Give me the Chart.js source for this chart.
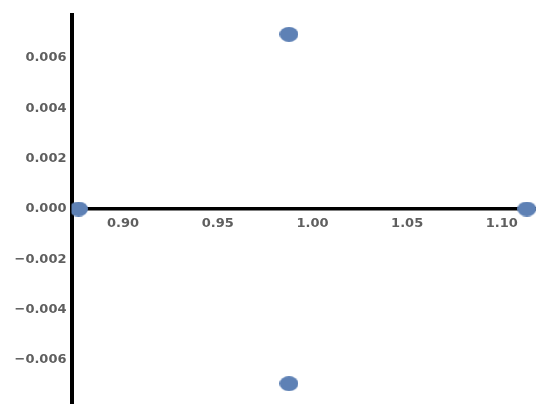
<!DOCTYPE html>
<html><head><meta charset="utf-8">
<script src="https://cdn.jsdelivr.net/npm/chart.js@4"></script>
<style>html,body{margin:0;padding:0;background:#fff}</style>
</head><body>
<canvas id="c" width="550" height="419" style="width:550px;height:419px;display:block"></canvas>
<script>
const xValues = [0.8765, 0.9876, 0.9876, 1.1132];
const yValues = [0, 0.00694, -0.00694, 0];
const xTicks = [0.90, 0.95, 1.00, 1.05, 1.10];
const yTicks = [-0.006, -0.004, -0.002, 0, 0.002, 0.004, 0.006];
const xRange = [0.8728, 1.1175];
const yRange = [-0.00771, 0.00771];

const pointColor = '#5E81B5';
const labelColor = '#5f5f5f';

function ellipseMarker(w, h, color) {
  const cv = document.createElement('canvas');
  cv.width = w; cv.height = h;
  const g = cv.getContext('2d');
  g.fillStyle = color;
  g.beginPath();
  g.ellipse(w / 2, h / 2, w / 2, h / 2, 0, 0, Math.PI * 2);
  g.fill();
  return cv;
}
const marker = ellipseMarker(19, 15, pointColor);

const fmt = (v, d) => {
  if (Math.abs(v) < 1e-12) v = 0;
  const s = Math.abs(v).toFixed(d);
  return v < 0 ? '\u2212' + s : s;
};

const font = { family: 'DejaVu Sans', size: 13, weight: 'bold' };

new Chart(document.getElementById('c'), {
  type: 'scatter',
  data: {
    datasets: [{
      data: xValues.map((x, i) => ({ x: x, y: yValues[i] })),
      pointStyle: marker,
      pointRadius: 10,
      pointHoverRadius: 10,
      backgroundColor: pointColor,
      borderColor: pointColor,
      clip: { left: 0, right: 20, top: 20, bottom: 20 }
    }]
  },
  options: {
    responsive: false,
    animation: false,
    events: [],
    layout: { padding: { top: 15, bottom: 16, right: 15, left: 0 } },
    plugins: { legend: { display: false }, tooltip: { enabled: false } },
    scales: {
      x: {
        type: 'linear',
        min: xRange[0], max: xRange[1],
        position: { y: 0 },
        z: 0,
        afterBuildTicks: s => { s.ticks = xTicks.map(v => ({ value: v })); },
        grid: { display: false, drawTicks: false },
        border: { display: true, color: '#000', width: 3.5 },
        ticks: { color: labelColor, font: font, padding: 7, maxRotation: 0, callback: v => fmt(v, 2) }
      },
      y: {
        type: 'linear',
        min: yRange[0], max: yRange[1],
        position: 'left',
        z: 1,
        afterFit: s => { s.width = 71.5; },
        afterBuildTicks: s => { s.ticks = yTicks.map(v => ({ value: v })); },
        grid: { display: false, drawTicks: false },
        border: { display: true, color: '#000', width: 4 },
        ticks: { color: labelColor, font: font, padding: 5, callback: v => fmt(v, 3) }
      }
    }
  }
});
</script>
</body></html>
